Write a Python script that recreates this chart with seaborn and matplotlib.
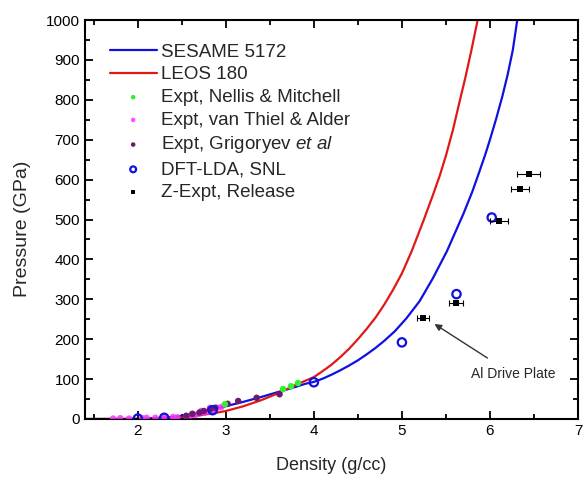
import numpy as np
import pandas as pd
import matplotlib
matplotlib.use("Agg")
import matplotlib.pyplot as plt
import seaborn as sns
from matplotlib.ticker import MultipleLocator

# ---- Data ----
sesame_rho = [1.4, 1.8, 2.0, 2.2, 2.4, 2.6, 2.8, 3.0, 3.2, 3.4, 3.6, 3.8, 3.9, 4.0, 4.1, 4.2,
              4.3, 4.4, 4.5, 4.6, 4.7, 4.8, 4.92, 5.05, 5.2, 5.35, 5.51, 5.6, 5.7, 5.8,
              5.88, 5.95, 6.0, 6.07, 6.14, 6.2, 6.26, 6.31]
sesame_p = [0, 0, 0.5, 2, 5, 11, 21, 32, 43, 55, 68, 81, 88, 93, 101, 111,
            122, 134, 147, 162, 178, 196, 220, 252, 295, 352, 420, 465, 515, 570,
            620, 665, 700, 752, 808, 862, 925, 1000]

leos_rho = [1.4, 2.0, 2.3, 2.5, 2.7, 2.9, 3.0, 3.2, 3.4, 3.6, 3.8, 4.0, 4.1, 4.2, 4.3,
            4.4, 4.5, 4.6, 4.7, 4.8, 4.9, 5.0, 5.11, 5.25, 5.35, 5.43, 5.5, 5.58, 5.66,
            5.72, 5.79, 5.86]
leos_p = [0, 0, 1, 3, 9, 16, 20, 32, 47, 65, 86, 105, 120, 136, 155,
          176, 200, 226, 254, 287, 324, 365, 420, 500, 560, 610, 660, 725, 800,
          855, 925, 1000]

nellis_rho = [2.99, 3.65, 3.74, 3.82]
nellis_p = [37, 75, 82, 90]

vanthiel_rho = [1.72, 1.8, 1.9, 2.05, 2.1, 2.2, 2.3, 2.4, 2.45, 2.55, 2.6, 2.65,
                2.7, 2.75, 2.8, 2.85, 2.9, 2.95, 2.72, 2.82]
vanthiel_p = [1, 2, 1, 2, 3, 3, 4, 5, 4, 7, 9, 10, 14, 16, 18, 20, 28, 30, 20, 28]

grig_rho = [2.55, 2.62, 2.7, 2.75, 2.82, 2.88, 3.02, 3.14, 3.35, 3.61]
grig_p = [8, 13, 16, 20, 24, 28, 38, 45, 53, 62]

dft_rho = [2.0, 2.3, 2.85, 4.0, 5.0, 5.62, 6.02]
dft_p = [1, 3, 22, 92, 192, 313, 505]

z_rho = [5.24, 5.61, 6.10, 6.34, 6.44]
z_p = [252, 290, 497, 577, 615]
z_err = [0.07, 0.08, 0.10, 0.10, 0.13]

# ---- Style ----
sns.set_style("ticks")
plt.rcParams['font.family'] = ['Liberation Sans', 'DejaVu Sans']
plt.rcParams['mathtext.fontset'] = 'custom'
plt.rcParams['mathtext.rm'] = 'Liberation Sans'
plt.rcParams['mathtext.it'] = 'Liberation Sans:italic'

fig = plt.figure(figsize=(5.84, 4.79), dpi=100)
ax = fig.add_axes([0.1455, 0.1253, 0.8442, 0.8329])

sns.lineplot(x=sesame_rho, y=sesame_p, sort=False, color='#1010e0', lw=1.6,
             ax=ax, label='SESAME 5172')
sns.lineplot(x=leos_rho, y=leos_p, sort=False, color='#e01818', lw=1.6,
             ax=ax, label='LEOS 180')

sns.scatterplot(x=vanthiel_rho, y=vanthiel_p, color='#ff33ff', s=22, edgecolor='none',
                alpha=0.85, ax=ax, label='Expt, van Thiel & Alder', zorder=3)
sns.scatterplot(x=grig_rho, y=grig_p, color='#6a1a70', s=22, edgecolor='none',
                ax=ax, label=r'Expt, Grigoryev $\it{et\ al}$', zorder=4)
sns.scatterplot(x=nellis_rho, y=nellis_p, color='#33ee33', s=22, edgecolor='none',
                ax=ax, label='Expt, Nellis & Mitchell', zorder=4)
sns.scatterplot(x=dft_rho, y=dft_p, marker='o', facecolor='none', edgecolor='#1010e0',
                linewidth=1.6, s=36, ax=ax, label='DFT-LDA, SNL', zorder=5)
ax.errorbar(z_rho, z_p, xerr=z_err, fmt='none', ecolor='black', elinewidth=0.8,
            capsize=2.5, capthick=0.8, zorder=5)
sns.scatterplot(x=z_rho, y=z_p, marker='s', color='black', s=18, edgecolor='none',
                ax=ax, label='Z-Expt, Release', zorder=6)

ax.annotate('Al Drive Plate', xy=(5.37, 238), xytext=(6.26, 112),
            ha='center', va='center', fontsize=10,
            arrowprops=dict(arrowstyle='-|>', color='#333333', lw=1.0,
                            shrinkA=8, shrinkB=0, mutation_scale=10))

ax.set_xlim(1.4, 7)
ax.set_ylim(0, 1000)
ax.xaxis.set_major_locator(MultipleLocator(1))
ax.xaxis.set_minor_locator(MultipleLocator(0.5))
ax.yaxis.set_major_locator(MultipleLocator(100))
ax.yaxis.set_minor_locator(MultipleLocator(50))
ax.tick_params(which='both', direction='in', top=True, right=True, width=1.3,
               labelsize=11, colors='black')
ax.tick_params(which='major', length=6)
ax.tick_params(which='minor', length=3.5)
for s in ax.spines.values():
    s.set_linewidth(1.5)
    s.set_color('black')
ax.set_xlabel('Density (g/cc)', fontsize=13)
ax.set_ylabel('Pressure (GPa)', fontsize=14)
ax.xaxis.set_label_coords(0.5, -0.095)
ax.yaxis.set_label_coords(-0.11, 0.476)

handles, labels = ax.get_legend_handles_labels()
order = ['SESAME 5172', 'LEOS 180', 'Expt, Nellis & Mitchell', 'Expt, van Thiel & Alder',
         r'Expt, Grigoryev $\it{et\ al}$', 'DFT-LDA, SNL', 'Z-Expt, Release']
hmap = dict(zip(labels, handles))
leg = ax.legend([hmap[l] for l in order], order, loc='upper left', frameon=False,
                fontsize=13.5, handlelength=2.5, handletextpad=0.25, labelspacing=0.3,
                borderaxespad=0.0, bbox_to_anchor=(0.035, 0.96), markerscale=0.7)

fig.savefig('out.png', dpi=100)
